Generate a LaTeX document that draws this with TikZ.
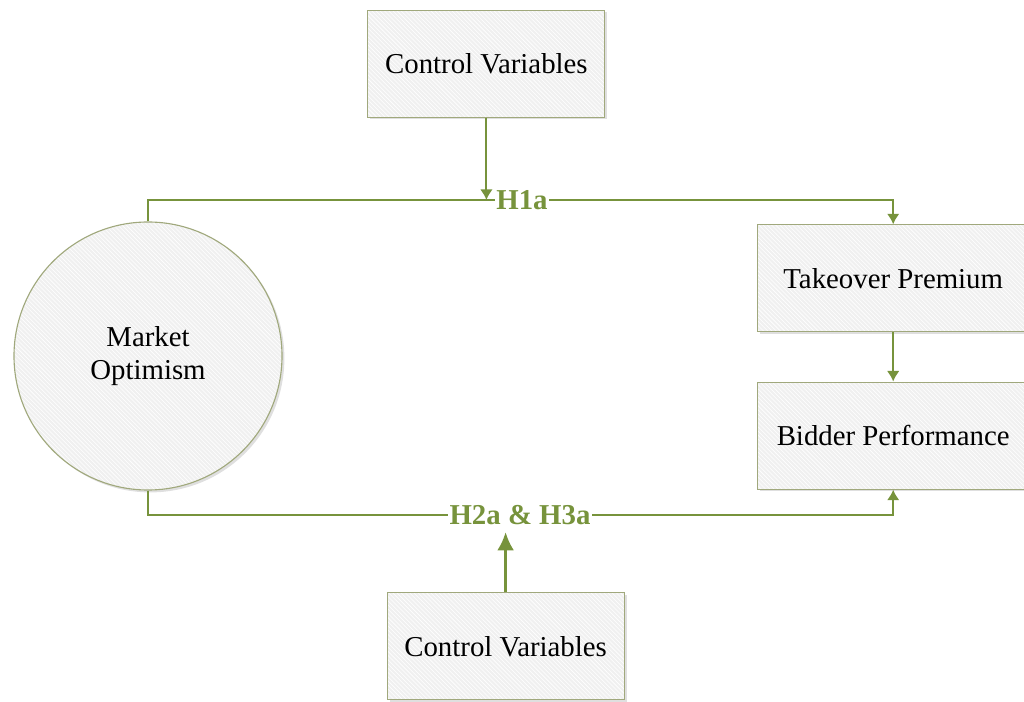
\documentclass[tikz,border=0pt]{standalone}
\usepackage{fontspec}
\setmainfont{Liberation Serif}
\usetikzlibrary{shadows, patterns, arrows.meta}
\definecolor{olivegreen}{RGB}{119,147,60}
\definecolor{boxedge}{RGB}{160,168,124}
\definecolor{boxfill}{RGB}{240,240,240}
\tikzstyle{box}=[drop shadow={shadow xshift=0.06cm, shadow yshift=-0.06cm, opacity=0.25},
    preaction={fill=boxfill}, pattern=north west lines, pattern color=white,
    draw=boxedge, thick, minimum height=2.675cm, font=\fontsize{20.5}{23.5}\selectfont]
\tikzstyle{hyp}=[text=olivegreen, inner sep=1pt, font=\bfseries\fontsize{20.5}{24}\selectfont]
\tikzstyle{link}=[olivegreen, line width=1.4pt]
\tikzstyle{tip}=[-{Latex[length=7.5pt,width=9pt]}]

\begin{document}
\begin{tikzpicture}
    \useasboundingbox (0,0) rectangle (25.6,17.55);
    \node [box, minimum width=5.925cm] (cv1) at (12.16,15.96) {Control Variables};
    \node [box, minimum width=6.8cm] (tp) at (22.33,10.59) {Takeover Premium};
    \node [box, minimum width=6.8cm] (bp) at (22.33,6.66) {Bidder Performance};
    \node [box, circle, minimum size=6.7cm, align=center] (mo) at (3.7,8.65) {Market\\Optimism};
    \node [box, minimum width=5.925cm] (cv2) at (12.64,1.39) {Control Variables};
    \node [hyp] (h1) at (13.05,12.55) {H1a};
    \node [hyp] (h2) at (13.0,4.675) {H2a \& H3a};
    % upper path
    \draw [link] (mo.north) |- (h1.west);
    \draw [link,tip] (h1.east) -| (tp.north);
    \draw [link,tip] (cv1.south) -- (cv1.south |- h1.west);
    \draw [link,tip] (tp) -- (bp);
    % lower path
    \draw [link] (mo.south) |- (h2.west);
    \draw [link,tip] (h2.east) -| (bp.south);
    \draw [link,line width=2.1pt,-{Latex[length=13pt,width=12pt]},shorten >=4pt] (cv2.north) -- (cv2.north |- h2.south);
\end{tikzpicture}
\end{document}
